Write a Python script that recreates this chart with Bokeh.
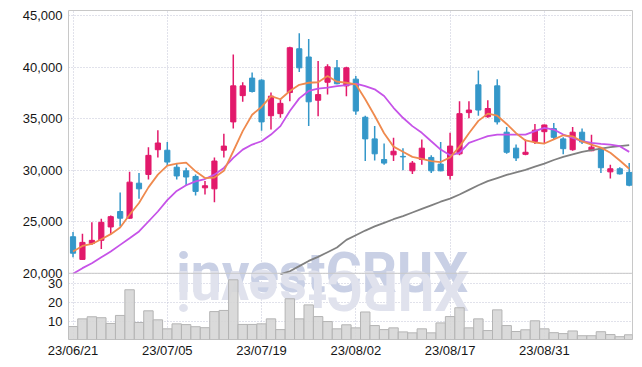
import math
from bokeh.plotting import figure
from bokeh.models import Range1d, FixedTicker, Span, Label, NumeralTickFormatter
from bokeh.core.properties import value
from bokeh.embed import file_html
from bokeh.resources import INLINE

# ---------------- data ----------------
dates = ["23/06/21", "23/06/22", "23/06/23", "23/06/26", "23/06/27", "23/06/28", "23/06/29", "23/06/30",
         "23/07/03", "23/07/04", "23/07/05", "23/07/06", "23/07/07", "23/07/10", "23/07/11", "23/07/12",
         "23/07/13", "23/07/14", "23/07/17", "23/07/18", "23/07/19", "23/07/20", "23/07/21", "23/07/24",
         "23/07/25", "23/07/26", "23/07/27", "23/07/28", "23/07/31", "23/08/01", "23/08/02", "23/08/03",
         "23/08/04", "23/08/07", "23/08/08", "23/08/09", "23/08/10", "23/08/11", "23/08/14", "23/08/16",
         "23/08/17", "23/08/18", "23/08/21", "23/08/22", "23/08/23", "23/08/24", "23/08/25", "23/08/28",
         "23/08/29", "23/08/30", "23/08/31", "23/09/01", "23/09/04", "23/09/05", "23/09/06", "23/09/07",
         "23/09/08", "23/09/11", "23/09/12", "23/09/13"]

opens = [23550, 21350, 22900, 23200, 24500, 26000, 25350, 28750, 29600, 32000,
         31950, 30300, 29950, 29400, 28300, 28200, 31950, 34700, 37250, 38950,
         38750, 35300, 35500, 37550, 41800, 41000, 36800, 38550, 39950, 38200,
         38850, 35150, 33050, 31050, 31500, 31350, 29950, 31050, 31250, 30600,
         29500, 31600, 35600, 38300, 35200, 38200, 33700, 32150, 31550, 32800,
         33750, 34050, 33050, 32000, 33700, 31900, 32100, 29850, 30150, 29800]
highs = [24000, 23850, 24950, 25300, 25600, 27850, 29850, 29750, 32250, 33900,
         32750, 30700, 30250, 29600, 28950, 31250, 33550, 41250, 38550, 39500,
         38850, 37550, 36900, 42000, 43300, 42750, 40600, 40300, 40700, 40050,
         39150, 35300, 34300, 32600, 33150, 32150, 30900, 33000, 31450, 32750,
         33650, 36700, 36700, 39700, 36800, 38850, 34200, 32500, 33000, 34500,
         34450, 34600, 33200, 34200, 34050, 33450, 32250, 30550, 30300, 30700]
lows = [21550, 21300, 22750, 22350, 23800, 24550, 25300, 27250, 29100, 31250,
        30450, 29100, 28550, 27550, 27650, 26900, 31250, 34050, 36650, 37550,
        33850, 33950, 35100, 36700, 39550, 34300, 35250, 37350, 38350, 37200,
        35400, 30900, 30950, 30550, 30900, 30000, 29650, 30550, 29750, 29900,
        29100, 31450, 35050, 35300, 35100, 34450, 31600, 30900, 31450, 32550,
        32650, 33050, 31550, 31900, 32550, 31850, 29750, 29200, 29600, 28450]
closes = [21950, 23000, 23200, 24950, 25500, 25350, 28850, 28200, 31450, 32650,
          30800, 29450, 29350, 27950, 28500, 30900, 32350, 38200, 38200, 37650,
          34700, 37200, 36500, 41900, 39950, 36650, 37350, 40050, 38400, 39950,
          35750, 33050, 31600, 30700, 31850, 31300, 30700, 32150, 29950, 29950,
          32350, 35500, 35850, 35850, 36000, 34700, 31750, 31200, 31750, 33900,
          34400, 33200, 32100, 33700, 32750, 32250, 30250, 30150, 29650, 28550]

volume_m = [7.4, 11.4, 12.5, 12.0, 9.0, 13.2, 26.6, 9.5, 15.6, 10.9,
            6.2, 8.8, 8.4, 7.3, 6.8, 15.2, 15.8, 31.8, 8.5, 8.5,
            8.8, 11.4, 5.8, 21.9, 11.4, 18.7, 12.6, 10.0, 6.2, 8.3,
            6.7, 15.0, 7.9, 5.8, 6.7, 4.6, 4.1, 6.2, 4.1, 9.3,
            12.6, 17.2, 6.7, 11.4, 5.3, 16.1, 7.9, 4.8, 5.7, 10.4,
            6.2, 4.2, 3.7, 5.1, 2.6, 2.6, 4.7, 3.2, 2.1, 3.1]

ma5 = [22110, 22660, 22850, 23310, 23800, 24450, 25680, 26820, 28340, 29580,
       30450, 30650, 30750, 29900, 29250, 29300, 29950, 31850, 33800, 35400,
       36150, 37200, 36900, 37700, 38300, 38500, 38550, 39150, 38600, 38500,
       38350, 36900, 35300, 33600, 32300, 31800, 31300, 31100, 30900, 30800,
       31250, 32300, 33600, 34800, 35500, 35300, 34500, 33600, 32900, 32700,
       32600, 33000, 33400, 33300, 32800, 32500, 32200, 31700, 30950, 30150]
ma20 = [19950, 20500, 20980, 21550, 22110, 22760, 23400, 24060, 25030, 26000,
        27100, 28000, 28550, 28930, 29150, 29580, 30230, 31200, 32010, 32500,
        32820, 33470, 34290, 35750, 36980, 37700, 37920, 38020, 38180, 38280,
        38410, 38180, 37860, 37210, 36070, 35100, 34290, 33640, 32820, 32010,
        31460, 31690, 32660, 32990, 33310, 33470, 33470, 33470, 33470, 33800,
        34120, 33960, 33470, 33150, 32820, 32660, 32560, 32500, 32340, 31790]
nan = float("nan")
ma60 = [nan] * 22 + [19920, 20200, 20700, 21200, 21600, 22050, 22500, 23250,
                     23700, 24150, 24550, 24900, 25250, 25550, 25900, 26250,
                     26600, 26950, 27250, 27650, 28100, 28550, 28950, 29250,
                     29550, 29800, 30050, 30350, 30650, 31000, 31300, 31550,
                     31800, 31950, 32100, 32250, 32350, 32450]

price_ticks = [20000, 25000, 30000, 35000, 40000, 45000]
vol_ticks = [10, 20, 30]
date_tick_idx = [0, 10, 20, 30, 40, 50]

# ---------------- layout constants ----------------
P_MIN, P_MAX = 13573, 45515
V_MIN, V_MAX = 0.63, 172.4
X_MIN, X_MAX = -0.48, 59.35
FRAME_W, FRAME_H = 564, 329

UP, DOWN = "#e2196b", "#3497c9"
FONT = "Liberation Sans"

idx = list(range(len(dates)))

p = figure(width=640, height=361, output_backend="svg", toolbar_location=None,
           x_range=Range1d(X_MIN, X_MAX), y_range=Range1d(P_MIN, P_MAX),
           min_border_left=68, min_border_right=8, min_border_top=10, min_border_bottom=22)
p.extra_y_ranges = {"vol": Range1d(V_MIN, V_MAX)}
p.background_fill_color = "white"
p.border_fill_color = "white"
p.outline_line_color = "#c8c8c8"

# watermark
wm = "investCRUX"
wm_size = 55
wm_x0 = 10.95
WM_FONT = "Roboto"
p.text(x=[wm_x0], y=[20040], text=[wm], text_font=value(WM_FONT), text_font_style="bold",
       text_font_size=f"{wm_size}px", text_color="#c9d0e5", text_align="left",
       text_baseline="alphabetic")
em_w = {"i": .26, "n": .56, "v": .50, "e": .54, "s": .53, "t": .34,
        "C": .66, "R": .64, "U": .66, "X": .64}
px_per_unit = FRAME_W / (X_MAX - X_MIN)
px_per_vol = FRAME_H / (V_MAX - V_MIN)
cx, cum = [], 0.0
for ch in wm:
    w = em_w[ch] * wm_size
    cx.append(wm_x0 + (cum + w / 2) / px_per_unit)
    cum += w
v_sep = V_MIN + (20000 - P_MIN) / (P_MAX - P_MIN) * (V_MAX - V_MIN)
v_refl = v_sep - (0.30 * wm_size) / px_per_vol

# volume bars + reflected watermark
p.text(x=cx, y=[v_refl] * len(wm), text=list(wm), angle=math.pi, y_range_name="vol",
       text_font=value(WM_FONT), text_font_style="bold", text_font_size=f"{wm_size}px",
       text_color="#e0e2ed", text_align="center", text_baseline="middle")
p.vbar(x=idx, top=volume_m, bottom=0, width=1.0, y_range_name="vol",
       fill_color="#d6d6d6", fill_alpha=0.9, line_color="#b4b4b4", line_width=1)

# separator
p.add_layout(Span(location=20000, dimension="width", line_color="#c8c8c8", line_width=1))

# candles
colors = [UP if c >= o else DOWN for o, c in zip(opens, closes)]
p.segment(x0=idx, y0=lows, x1=idx, y1=highs, line_color=colors, line_width=1.5)
p.vbar(x=idx, top=[max(o, c) for o, c in zip(opens, closes)],
       bottom=[min(o, c) for o, c in zip(opens, closes)], width=0.55,
       fill_color=colors, line_color=colors, line_width=1)

# moving averages
p.line(idx, ma60, line_color="#808080", line_width=1.8)
p.line(idx, ma20, line_color="#c653e8", line_width=1.8)
p.line(idx, ma5, line_color="#ef8a4e", line_width=1.8)

# axes
vol_tick_prices = [round(P_MIN + (v - V_MIN) / (V_MAX - V_MIN) * (P_MAX - P_MIN)) for v in vol_ticks]
yt = FixedTicker(ticks=price_ticks + vol_tick_prices)
p.yaxis.ticker = yt
p.yaxis.formatter = NumeralTickFormatter(format="0,0")
p.yaxis.major_label_overrides = {tp: str(v) for tp, v in zip(vol_tick_prices, vol_ticks)}
p.xaxis.ticker = FixedTicker(ticks=date_tick_idx)
p.xaxis.major_label_overrides = {i: dates[i] for i in date_tick_idx}
for ax in (p.xaxis, p.yaxis):
    ax.axis_line_color = None
    ax.major_tick_line_color = None
    ax.minor_tick_line_color = None
    ax.major_tick_out = 0
    ax.major_tick_in = 0
    ax.major_label_text_font = FONT
    ax.major_label_text_font_size = "13px"
    ax.major_label_text_color = "#161616"
p.yaxis.major_label_standoff = 6
p.xaxis.major_label_standoff = 3

p.ygrid.ticker = yt
p.xgrid.ticker = FixedTicker(ticks=date_tick_idx)
for g in (p.xgrid, p.ygrid):
    g.grid_line_color = "#c3c5d6"
    g.grid_line_dash = "1 2"
    g.grid_line_width = 1

p.add_layout(Label(x=-4.2, y=20, y_range_name="vol", text="10⁶", angle=math.pi / 2,
                   text_align="center", text_baseline="middle", text_font="DejaVu Serif",
                   text_font_size="12px", text_color="#333333"))

open("out.html", "w").write(file_html(p, INLINE))
